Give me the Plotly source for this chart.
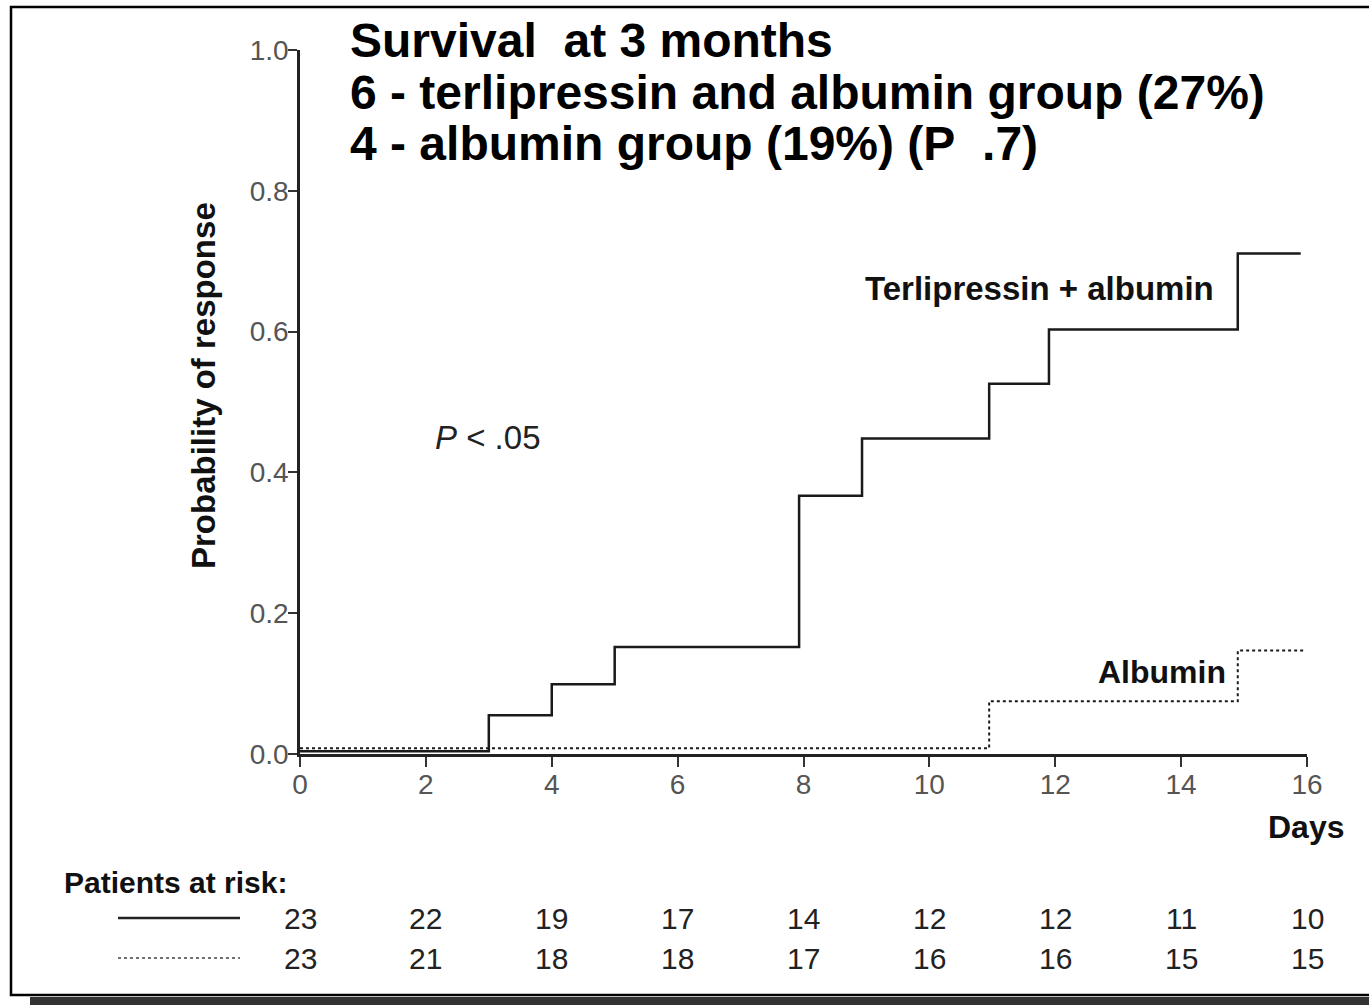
import plotly.graph_objects as go

# ---------------- data ----------------
terli_days = [0, 3, 4, 5, 7.93, 8.93, 10.95, 11.9, 14.9, 15.9]
terli_prob = [0.004, 0.055, 0.099, 0.152, 0.367, 0.448, 0.526, 0.603, 0.711, 0.711]

alb_days = [0, 10.95, 14.9, 15.95]
alb_prob = [0.008, 0.075, 0.147, 0.147]

risk_days = [0, 2, 4, 6, 8, 10, 12, 14, 16]
risk_terli = [23, 22, 19, 17, 14, 12, 12, 11, 10]
risk_alb = [23, 21, 18, 18, 17, 16, 16, 15, 15]

y_ticks = [0.0, 0.2, 0.4, 0.6, 0.8, 1.0]
x_ticks = [0, 2, 4, 6, 8, 10, 12, 14, 16]

title_lines = [
    "Survival\u00a0\u00a0at 3 months",
    "6 - terlipressin and albumin group (27%)",
    "4 - albumin group (19%) (P\u00a0\u00a0.7)",
]

# ---------------- layout helpers ----------------
W, H = 1369, 1005
L, R, T, B = 300, 1307, 50, 754
FONT = "Liberation Sans, Arial, Helvetica, sans-serif"


def px(x, y):
    return (x - L) / (R - L), (B - y) / (B - T)


fig = go.Figure()

fig.add_trace(go.Scatter(
    x=terli_days, y=terli_prob, mode="lines", line_shape="hv",
    line=dict(color="#1a1a1a", width=2.5), showlegend=False, hoverinfo="skip"))
fig.add_trace(go.Scatter(
    x=alb_days, y=alb_prob, mode="lines", line_shape="hv",
    line=dict(color="#1a1a1a", width=2, dash="3px,3px"), showlegend=False, hoverinfo="skip"))

ann = []

# title lines
for i, (txt, yc) in enumerate(zip(title_lines, [40, 92, 143])):
    x0, y0 = px(348, yc)
    ann.append(dict(text=f"<b>{txt}</b>", x=x0, y=y0, xref="paper", yref="paper",
                    xanchor="left", yanchor="middle", showarrow=False,
                    font=dict(family=FONT, size=48, color="#000")))

# curve labels
x0, y0 = px(1216, 288)
ann.append(dict(text="<b>Terlipressin + albumin</b>", x=x0, y=y0, xref="paper", yref="paper",
                xanchor="right", yanchor="middle", showarrow=False,
                font=dict(family=FONT, size=33, color="#111")))
x0, y0 = px(1228, 672)
ann.append(dict(text="<b>Albumin</b>", x=x0, y=y0, xref="paper", yref="paper",
                xanchor="right", yanchor="middle", showarrow=False,
                font=dict(family=FONT, size=32, color="#111")))
x0, y0 = px(433, 437)
ann.append(dict(text="<i>P</i> < .05", x=x0, y=y0, xref="paper", yref="paper",
                xanchor="left", yanchor="middle", showarrow=False,
                font=dict(family=FONT, size=33, color="#222")))
x0, y0 = px(1347, 827)
ann.append(dict(text="<b>Days</b>", x=x0, y=y0, xref="paper", yref="paper",
                xanchor="right", yanchor="middle", showarrow=False,
                font=dict(family=FONT, size=32, color="#111")))
x0, y0 = px(203, 386)
ann.append(dict(text="<b>Probability of response</b>", x=x0, y=y0, xref="paper", yref="paper",
                xanchor="center", yanchor="middle", showarrow=False, textangle=-90,
                font=dict(family=FONT, size=33, color="#111")))
x0, y0 = px(62, 882)
ann.append(dict(text="<b>Patients at risk:</b>", x=x0, y=y0, xref="paper", yref="paper",
                xanchor="left", yanchor="middle", showarrow=False,
                font=dict(family=FONT, size=30, color="#111")))

# risk table
for row, yc in ((risk_terli, 918), (risk_alb, 958)):
    _, y0 = px(0, yc)
    for d, n in zip(risk_days, row):
        ann.append(dict(text=str(n), x=d, y=y0, xref="x", yref="paper",
                        xanchor="center", yanchor="middle", showarrow=False,
                        font=dict(family=FONT, size=30, color="#222")))

shapes = []
# legend line samples
a, b = px(118, 918)
c, _ = px(240, 918)
shapes.append(dict(type="line", xref="paper", yref="paper", x0=a, x1=c, y0=b, y1=b,
                   line=dict(color="#222", width=2.5)))
a, b = px(118, 958)
shapes.append(dict(type="line", xref="paper", yref="paper", x0=a, x1=c, y0=b, y1=b,
                   line=dict(color="#444", width=1.5, dash="3px,3px")))
# frame
a, b = px(11, 7)
c, d = px(1375, 995)
shapes.append(dict(type="rect", xref="paper", yref="paper", x0=a, x1=c, y0=d, y1=b,
                   line=dict(color="#000", width=2.5), fillcolor="rgba(0,0,0,0)"))
# dark band at bottom
a, b = px(30, 997)
c, d = px(1380, 1010)
shapes.append(dict(type="rect", xref="paper", yref="paper", x0=a, x1=c, y0=d, y1=b,
                   line=dict(width=0), fillcolor="#333"))

fig.update_layout(
    width=W, height=H, autosize=False,
    margin=dict(l=L, r=W - R, t=T, b=H - B, pad=0),
    paper_bgcolor="white", plot_bgcolor="white",
    annotations=ann, shapes=shapes,
    xaxis=dict(range=[0, 16], tickvals=x_ticks, ticktext=[str(v) for v in x_ticks],
               showline=True, linecolor="#222", linewidth=2.5, ticks="outside",
               ticklen=10, tickwidth=1.5, tickcolor="#333", showgrid=False, zeroline=False,
               ticklabelstandoff=-6,
               tickfont=dict(family=FONT, size=28, color="#555")),
    yaxis=dict(range=[0, 1], tickvals=y_ticks, ticktext=[f"{v:.1f}" for v in y_ticks],
               showline=True, linecolor="#222", linewidth=2.5, ticks="outside",
               ticklen=9, tickwidth=1.5, tickcolor="#333", showgrid=False, zeroline=False,
               ticklabelstandoff=-6,
               tickfont=dict(family=FONT, size=28, color="#555")),
)

fig.write_html("out.html")
